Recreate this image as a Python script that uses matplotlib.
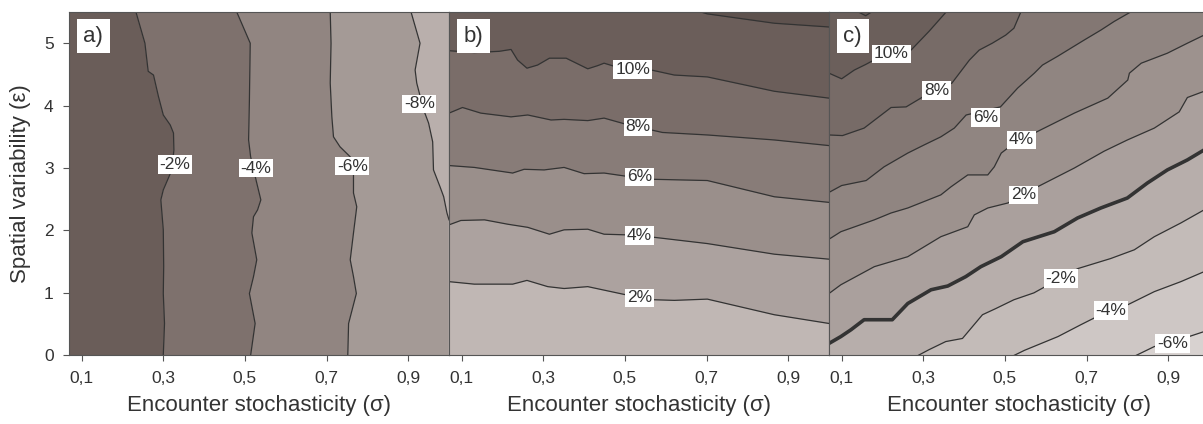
import matplotlib.pyplot as plt
import numpy as np

plt.rcParams['font.family'] = ['Liberation Sans', 'DejaVu Sans']

sig_lim = (0.069, 1.0)
eps_lim = (0.0, 5.5)
sig_ticks = [0.1, 0.3, 0.5, 0.7, 0.9]
sig_ticklabels = ['0,1', '0,3', '0,5', '0,7', '0,9']
eps_ticks = [0, 1, 2, 3, 4, 5]

# ---- a) isolines, (sigma, eps) from bottom to top
a_m2 = [(0.300, 0.0), (0.303, 0.51), (0.300, 0.99), (0.301, 1.42), (0.300, 2.01),
        (0.294, 2.49), (0.300, 2.65), (0.321, 2.97), (0.326, 3.29), (0.325, 3.56),
        (0.317, 3.69), (0.300, 3.85), (0.288, 4.15), (0.276, 4.49), (0.263, 4.55),
        (0.255, 5.0), (0.233, 5.5)]
a_m4 = [(0.514, 0.0), (0.525, 0.51), (0.511, 0.99), (0.521, 1.26), (0.529, 1.53),
        (0.517, 1.96), (0.521, 2.22), (0.531, 2.33), (0.539, 2.49), (0.529, 2.76),
        (0.514, 3.18), (0.509, 3.45), (0.511, 4.09), (0.513, 5.0), (0.480, 5.5)]
a_m6 = [(0.752, 0.0), (0.754, 0.51), (0.773, 0.99), (0.766, 1.26), (0.758, 1.53),
        (0.766, 1.96), (0.774, 2.38), (0.766, 2.60), (0.766, 2.92), (0.758, 3.18),
        (0.733, 3.34), (0.717, 3.50), (0.713, 3.82), (0.709, 4.36), (0.711, 5.0),
        (0.709, 5.5)]
a_m8 = [(1.0, 2.17), (0.995, 2.28), (0.987, 2.54), (0.978, 2.70), (0.962, 2.97),
        (0.960, 3.42), (0.950, 3.72), (0.938, 3.93), (0.921, 4.36), (0.917, 4.57),
        (0.929, 5.0), (0.907, 5.5)]
levels_a = [-2, -4, -6, -8]
lines_a = [a_m2, a_m4, a_m6, a_m8]
labpos_a = [(0.328, 3.06), (0.527, 3.00), (0.763, 3.03), (0.927, 4.03)]

# ---- b) isolines, (sigma, eps) from left to right
b_2 = [(0.069, 1.18), (0.131, 1.14), (0.225, 1.14), (0.260, 1.20), (0.311, 1.10),
       (0.351, 1.07), (0.409, 1.10), (0.502, 0.97), (0.572, 0.89), (0.621, 0.88),
       (0.702, 0.90), (0.866, 0.65), (1.0, 0.51)]
b_4 = [(0.069, 2.09), (0.098, 2.16), (0.156, 2.17), (0.213, 2.10), (0.262, 2.05),
       (0.315, 1.94), (0.351, 2.01), (0.409, 2.02), (0.449, 1.94), (0.502, 1.93),
       (0.572, 1.89), (0.702, 1.79), (0.866, 1.62), (1.0, 1.54)]
b_6 = [(0.069, 3.04), (0.131, 3.01), (0.225, 2.92), (0.253, 2.98), (0.302, 2.97),
       (0.351, 3.01), (0.400, 2.91), (0.449, 2.92), (0.502, 2.87), (0.568, 2.82),
       (0.702, 2.80), (0.866, 2.54), (1.0, 2.45)]
b_8 = [(0.069, 3.88), (0.102, 3.97), (0.147, 3.88), (0.221, 3.82), (0.262, 3.85),
       (0.319, 3.77), (0.351, 3.78), (0.409, 3.76), (0.449, 3.80), (0.498, 3.71),
       (0.565, 3.61), (0.592, 3.57), (0.702, 3.53), (0.866, 3.45), (1.0, 3.36)]
b_10 = [(0.069, 4.88), (0.131, 4.85), (0.192, 4.87), (0.221, 4.90), (0.237, 4.73),
        (0.260, 4.60), (0.286, 4.65), (0.315, 4.76), (0.356, 4.76), (0.409, 4.59),
        (0.433, 4.64), (0.449, 4.68), (0.474, 4.63), (0.565, 4.57), (0.621, 4.49),
        (0.702, 4.46), (0.866, 4.23), (1.0, 4.12)]
b_12 = [(0.686, 5.5), (0.702, 5.47), (0.866, 5.32), (1.0, 5.26)]
levels_b = [2, 4, 6, 8, 10, 12]
lines_b = [b_2, b_4, b_6, b_8, b_10, b_12]
labpos_b = [(0.535, 0.92), (0.535, 1.92), (0.535, 2.86), (0.532, 3.66), (0.519, 4.58), None]

# ---- c) isolines, (sigma, eps) from left to right
c_m6 = [(0.822, 0.0), (0.866, 0.14), (0.911, 0.21), (0.951, 0.30), (0.988, 0.38)]
c_m4 = [(0.523, 0.0), (0.548, 0.08), (0.630, 0.30), (0.686, 0.49), (0.759, 0.73),
        (0.801, 0.81), (0.866, 1.02), (0.931, 1.18), (0.988, 1.34)]
c_m2 = [(0.288, 0.0), (0.314, 0.09), (0.355, 0.22), (0.396, 0.27), (0.445, 0.65),
        (0.478, 0.75), (0.522, 0.89), (0.571, 1.00), (0.679, 1.39), (0.759, 1.55),
        (0.817, 1.69), (0.866, 1.90), (0.931, 2.12), (0.988, 2.33)]
c_0 = [(0.069, 0.19), (0.098, 0.30), (0.123, 0.41), (0.155, 0.57), (0.224, 0.57),
       (0.262, 0.83), (0.319, 1.05), (0.360, 1.11), (0.404, 1.26), (0.441, 1.42),
       (0.491, 1.58), (0.544, 1.82), (0.621, 1.98), (0.678, 2.20), (0.735, 2.36),
       (0.800, 2.52), (0.849, 2.76), (0.898, 2.97), (0.947, 3.13), (0.988, 3.29)]
c_2 = [(0.069, 0.99), (0.098, 1.13), (0.180, 1.42), (0.262, 1.58), (0.343, 1.90),
       (0.409, 2.06), (0.425, 2.25), (0.458, 2.36), (0.507, 2.44), (0.580, 2.70),
       (0.670, 3.00), (0.743, 3.27), (0.800, 3.45), (0.866, 3.64), (0.927, 3.90),
       (0.947, 4.13), (0.988, 4.23)]
c_4 = [(0.069, 1.86), (0.098, 1.98), (0.180, 2.17), (0.221, 2.28), (0.262, 2.36),
       (0.343, 2.57), (0.368, 2.70), (0.409, 2.89), (0.458, 2.89), (0.474, 3.02),
       (0.491, 3.24), (0.507, 3.32), (0.578, 3.58), (0.670, 3.88), (0.752, 4.12),
       (0.801, 4.41), (0.805, 4.52), (0.834, 4.68), (0.898, 4.84), (0.947, 5.00),
       (0.988, 5.13)]
c_6 = [(0.069, 2.61), (0.100, 2.72), (0.160, 2.80), (0.204, 3.02), (0.262, 3.24),
       (0.302, 3.37), (0.343, 3.50), (0.376, 3.64), (0.405, 3.85), (0.489, 3.98),
       (0.531, 4.28), (0.572, 4.52), (0.592, 4.65), (0.629, 4.79), (0.694, 5.05),
       (0.735, 5.21), (0.768, 5.35), (0.808, 5.5)]
c_8 = [(0.069, 3.53), (0.102, 3.52), (0.155, 3.64), (0.221, 3.97), (0.258, 3.98),
       (0.299, 4.14), (0.370, 4.36), (0.413, 4.73), (0.437, 4.89), (0.469, 5.00),
       (0.502, 5.13), (0.522, 5.24), (0.539, 5.5)]
c_10 = [(0.069, 4.52), (0.100, 4.43), (0.131, 4.57), (0.159, 4.66), (0.179, 4.73),
        (0.270, 4.89), (0.314, 5.19), (0.356, 5.5)]
c_12 = [(0.141, 5.5), (0.159, 5.44), (0.173, 5.5)]
levels_c = [-6, -4, -2, 0, 2, 4, 6, 8, 10, 12]
lines_c = [c_m6, c_m4, c_m2, c_0, c_2, c_4, c_6, c_8, c_10, c_12]
labpos_c = [(0.911, 0.19), (0.760, 0.72), (0.637, 1.23), None, (0.546, 2.57),
            (0.540, 3.45), (0.453, 3.81), (0.333, 4.24), (0.222, 4.83), None]

# band colours, low edge first
cols_a = ['#6a5d59', '#7e716d', '#918581', '#a49a96', '#b9afac']
cols_b = ['#c0b7b4', '#aca29f', '#9a8f8b', '#887c78', '#7a6d69', '#6b5e5a', '#5e524e']
cols_c = ['#d8d2d0', '#cec7c5', '#c3bbb8', '#b7aeab', '#aaa09d', '#9d928e',
          '#908581', '#837773', '#776b67', '#6b5f5b', '#615551']


def stretch(pts, vertical):
    # carry an isoline along the frame so that it runs edge to edge
    p = np.array(pts, float)
    i = 1 if vertical else 0
    lo, hi = eps_lim if vertical else sig_lim
    if p[0, i] > lo:
        q = p[0].copy()
        q[i] = lo
        p = np.vstack([q, p])
    if p[-1, i] < hi:
        q = p[-1].copy()
        q[i] = hi
        p = np.vstack([p, q])
    return p


def panel(ax, levels, lines, labpos, cols, vertical, tag):
    s0, s1 = sig_lim
    e0, e1 = eps_lim
    if vertical:
        edges = (np.array([[s0, e0], [s0, e1]]), np.array([[s1, e0], [s1, e1]]))
    else:
        edges = (np.array([[s0, e0], [s1, e0]]), np.array([[s0, e1], [s1, e1]]))
    bounds = [edges[0]] + [stretch(l, vertical) for l in lines] + [edges[1]]
    for k in range(len(bounds) - 1):
        poly = np.vstack([bounds[k], bounds[k + 1][::-1]])
        ax.fill(poly[:, 0], poly[:, 1], fc=cols[k], ec=cols[k], lw=0.5, zorder=1)
    for lev, l, pos in zip(levels, lines, labpos):
        p = np.array(l)
        ax.plot(p[:, 0], p[:, 1], color='#333333', lw=2.6 if lev == 0 else 0.9,
                zorder=2, solid_joinstyle='round')
        if pos is not None:
            ax.text(pos[0], pos[1], f'{lev}%', ha='center', va='center', fontsize=12.5,
                    color='#333333', zorder=4,
                    bbox=dict(boxstyle='square,pad=0.1', fc='white', ec='none'))
    ax.text(0.038, 0.96, tag, transform=ax.transAxes, ha='left', va='top',
            fontsize=16, color='#333333', zorder=5,
            bbox=dict(boxstyle='square,pad=0.3', fc='white', ec='none'))
    ax.set_xlim(sig_lim)
    ax.set_ylim(eps_lim)
    ax.set_xticks(sig_ticks)
    ax.set_xticklabels(sig_ticklabels)
    ax.set_xlabel('Encounter stochasticity (σ)', fontsize=16, color='#333333', labelpad=7)
    ax.tick_params(direction='out', length=4, width=0.8, color='#555555',
                   labelsize=12.5, labelcolor='#333333', pad=7)
    for sp in ax.spines.values():
        sp.set_color('#555555')
        sp.set_linewidth(0.8)
        sp.set_zorder(6)


fig = plt.figure(figsize=(12.03, 4.24), dpi=100)
W, H = 1203.0, 424.0
bot = (H - 355.3) / H
hgt = 343.3 / H
ax_a = fig.add_axes([69 / W, bot, 380 / W, hgt])
ax_b = fig.add_axes([449 / W, bot, 380 / W, hgt])
ax_c = fig.add_axes([829 / W, bot, 380 / W, hgt])

panel(ax_a, levels_a, lines_a, labpos_a, cols_a, True, 'a)')
panel(ax_b, levels_b, lines_b, labpos_b, cols_b, False, 'b)')
panel(ax_c, levels_c, lines_c, labpos_c, cols_c, False, 'c)')

ax_a.set_yticks(eps_ticks)
ax_a.set_ylabel('Spatial variability (ε)', fontsize=16, color='#333333', labelpad=9)
for ax in (ax_b, ax_c):
    ax.set_yticks([])

fig.savefig('out.png', dpi=100)
